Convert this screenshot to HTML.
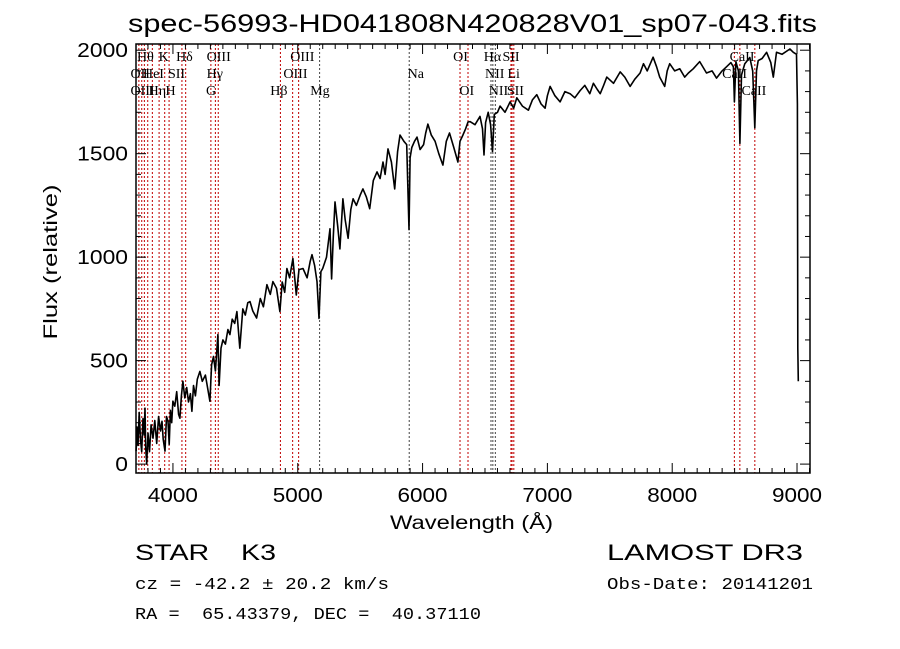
<!DOCTYPE html>
<html><head><meta charset="utf-8"><style>
body{margin:0;background:#fff;}
svg{display:block;font-family:"Liberation Sans",sans-serif;}
.t{font-family:"Liberation Sans",sans-serif;fill:#000;}
.m{font-family:"Liberation Mono",monospace;fill:#000;}
.l{font-family:"Liberation Serif",serif;font-size:14px;fill:#000;}
</style></head><body>
<svg id="chart" width="900" height="649" viewBox="0 0 900 649">
<rect width="900" height="649" fill="#fff"/>
<text class="t" x="128" y="32" font-size="25" textLength="689" lengthAdjust="spacingAndGlyphs">spec-56993-HD041808N420828V01_sp07-043.fits</text>
<text class="t" x="57" y="262" font-size="19" text-anchor="middle" textLength="155" lengthAdjust="spacingAndGlyphs" transform="rotate(-90 57 262)">Flux (relative)</text>
<text class="t" x="390" y="529" font-size="19" textLength="163" lengthAdjust="spacingAndGlyphs">Wavelength (Å)</text>
<text class="t" x="135" y="560" font-size="22" textLength="141" lengthAdjust="spacingAndGlyphs" xml:space="preserve">STAR    K3</text>
<text class="t" x="607" y="560" font-size="22" textLength="196" lengthAdjust="spacingAndGlyphs">LAMOST DR3</text>
<text class="m" x="135" y="589" font-size="17" textLength="254" lengthAdjust="spacingAndGlyphs">cz = -42.2 ± 20.2 km/s</text>
<text class="m" x="607" y="589" font-size="17" textLength="206" lengthAdjust="spacingAndGlyphs">Obs-Date: 20141201</text>
<text class="m" x="135" y="619" font-size="17" textLength="346" lengthAdjust="spacingAndGlyphs" xml:space="preserve">RA =  65.43379, DEC =  40.37110</text>
<g id="lines"></g>
<g id="labels"></g>
<g id="spec"></g>
<g id="axes"></g>
</svg>
<script>
const wl=[3705,3712,3720,3730,3740,3750,3760,3770,3776,3782,3790,3800,3812,3825,3840,3855,3870,3885,3900,3912,3922,3936,3948,3960,3970,3980,3990,4000,4015,4030,4045,4056,4068,4080,4095,4110,4125,4140,4152,4165,4180,4195,4216,4235,4260,4280,4296,4310,4325,4340,4360,4370,4385,4400,4420,4440,4456,4475,4495,4512,4536,4560,4580,4600,4617,4640,4670,4700,4725,4753,4780,4801,4830,4857,4875,4895,4913,4935,4961,4988,5010,5042,5075,5100,5114,5135,5154,5170,5185,5200,5230,5258,5271,5285,5298,5320,5338,5362,5380,5403,5425,5443,5470,5500,5522,5550,5576,5605,5635,5660,5683,5700,5723,5750,5777,5800,5819,5850,5873,5891,5900,5914,5935,5955,5980,6008,6025,6043,6070,6100,6130,6163,6190,6216,6250,6283,6300,6323,6345,6364,6380,6420,6460,6480,6492,6505,6526,6545,6560,6575,6600,6621,6660,6701,6730,6755,6800,6848,6880,6915,6950,6982,7000,7022,7060,7102,7140,7182,7220,7262,7300,7340,7369,7400,7423,7450,7476,7530,7583,7620,7663,7700,7743,7770,7800,7847,7875,7900,7940,7960,7980,8020,8061,8100,8130,8168,8220,8275,8320,8355,8400,8435,8470,8490,8498,8510,8530,8542,8555,8582,8622,8645,8662,8675,8689,8720,8756,8790,8810,8836,8880,8943,8970,8996,9003,9006,9010];
const flux=[63,180,90,250,120,60,220,140,270,80,0,150,60,190,125,210,100,230,160,207,120,63,230,207,95,260,200,304,280,350,240,222,330,400,320,370,300,340,255,380,330,410,448,400,430,360,304,480,520,450,626,380,560,600,580,650,626,700,680,737,560,750,720,780,785,740,706,800,760,867,820,882,850,737,880,830,945,900,993,817,940,945,900,980,1012,960,882,704,930,945,1000,1137,895,1100,1267,1150,1040,1282,1180,1091,1230,1282,1250,1300,1330,1290,1234,1370,1412,1380,1460,1400,1523,1460,1330,1510,1590,1560,1544,1133,1480,1530,1560,1580,1520,1544,1600,1643,1590,1560,1500,1445,1560,1600,1530,1460,1560,1590,1620,1653,1655,1640,1680,1620,1494,1650,1700,1640,1510,1690,1700,1730,1700,1750,1720,1770,1730,1710,1760,1785,1740,1720,1780,1825,1780,1750,1800,1790,1770,1805,1830,1790,1840,1810,1790,1830,1870,1840,1895,1870,1825,1860,1890,1935,1900,1966,1920,1870,1825,1900,1935,1900,1910,1870,1890,1910,1945,1890,1900,1865,1900,1920,1940,1920,1750,1945,1900,1550,1880,1935,1965,1900,1625,1900,1950,1960,1990,1940,1870,1990,1980,2006,1990,1980,1740,560,400];
const lineWl=[3727,3750,3771,3798,3835,3889,3934,3969,4072,4102,4304,4340,4363,4861,4959,5007,5175,5893,6300,6364,6548,6563,6583,6708,6717,6731,8498,8542,8662];
const lineDark=[5175,5893,6548,6563,6583];
const labelText=["Hθ","K","Hδ","OIII","OIII","OI","Hα","SII","CaII","OII","HeI","SII","Hγ","OIII","Na","NII","Li","CaII","OIII","Hη","H","G","Hβ","Mg","OI","NII","SII","CaII"];
const labelWl=[3712,3885,4025,4270,4940,6245,6490,6640,8460,3660,3760,3960,4270,4885,5880,6500,6680,8400,3660,3805,3940,4265,4780,5100,6295,6530,6675,8555];
const labelRow=[0,0,0,0,0,0,0,0,0,1,1,1,1,1,1,1,1,1,2,2,2,2,2,2,2,2,2,2];
const xTicks=[4000,5000,6000,7000,8000,9000];
const yTicks=[0,500,1000,1500,2000];

const X0=136,X1=810,Y0=44,Y1=473;
const W0=3704,W1=9104,F0=-43,F1=2030;
const xs=w=>X0+(w-W0)/(W1-W0)*(X1-X0);
const ys=f=>Y1-(f-F0)/(F1-F0)*(Y1-Y0);
const NS='http://www.w3.org/2000/svg';
function mk(t,a,p){const e=document.createElementNS(NS,t);for(const k in a)e.setAttribute(k,a[k]);p.appendChild(e);return e;}
const gL=document.getElementById('lines'),gLab=document.getElementById('labels'),gS=document.getElementById('spec'),gA=document.getElementById('axes');

lineWl.forEach(w=>{
  const ln=mk('line',{x1:xs(w),x2:xs(w),y1:Y0,y2:Y1,stroke:lineDark.includes(w)?'#444':'#c00000','stroke-width':1,'stroke-dasharray':'2,2'},gL);
  
  
});
labelText.forEach((t,i)=>{
  const e=mk('text',{x:xs(labelWl[i]),y:61+labelRow[i]*17,class:'l'},gLab);
  e.textContent=t;
  
  
});
let d='';
wl.forEach((w,i)=>{d+=(i?'L':'M')+xs(w).toFixed(1)+' '+ys(flux[i]).toFixed(1);});
const p=mk('path',{d:d,fill:'none',stroke:'#000','stroke-width':1.6,'stroke-linejoin':'round'},gS);



const box=mk('rect',{x:X0,y:Y0,width:X1-X0,height:Y1-Y0,fill:'none',stroke:'#000','stroke-width':1.5},gA);


for(let w=3800;w<=9100;w+=100){
  const x=xs(w),L=(w%1000===0)?10:5;
  mk('line',{x1:x,x2:x,y1:Y1,y2:Y1-L,stroke:'#000'},gA);
  mk('line',{x1:x,x2:x,y1:Y0,y2:Y0+L,stroke:'#000'},gA);
}
xTicks.forEach(w=>{
  const e=mk('text',{x:xs(w)-25,y:502,class:'t','font-size':20,textLength:50,lengthAdjust:'spacingAndGlyphs'},gA);
  e.textContent=w;
  
  
});
for(let f=0;f<=2000;f+=100){
  const y=ys(f),L=(f%500===0)?10:5;
  mk('line',{x1:X0,x2:X0+L,y1:y,y2:y,stroke:'#000'},gA);
  mk('line',{x1:X1,x2:X1-L,y1:y,y2:y,stroke:'#000'},gA);
}
yTicks.forEach(f=>{
  const n=String(f).length;
  const e=mk('text',{x:128-n*12.7,y:ys(f)+7,class:'t','font-size':20,textLength:n*12.7,lengthAdjust:'spacingAndGlyphs'},gA);
  e.textContent=f;
  
  
});
</script>
</body></html>
